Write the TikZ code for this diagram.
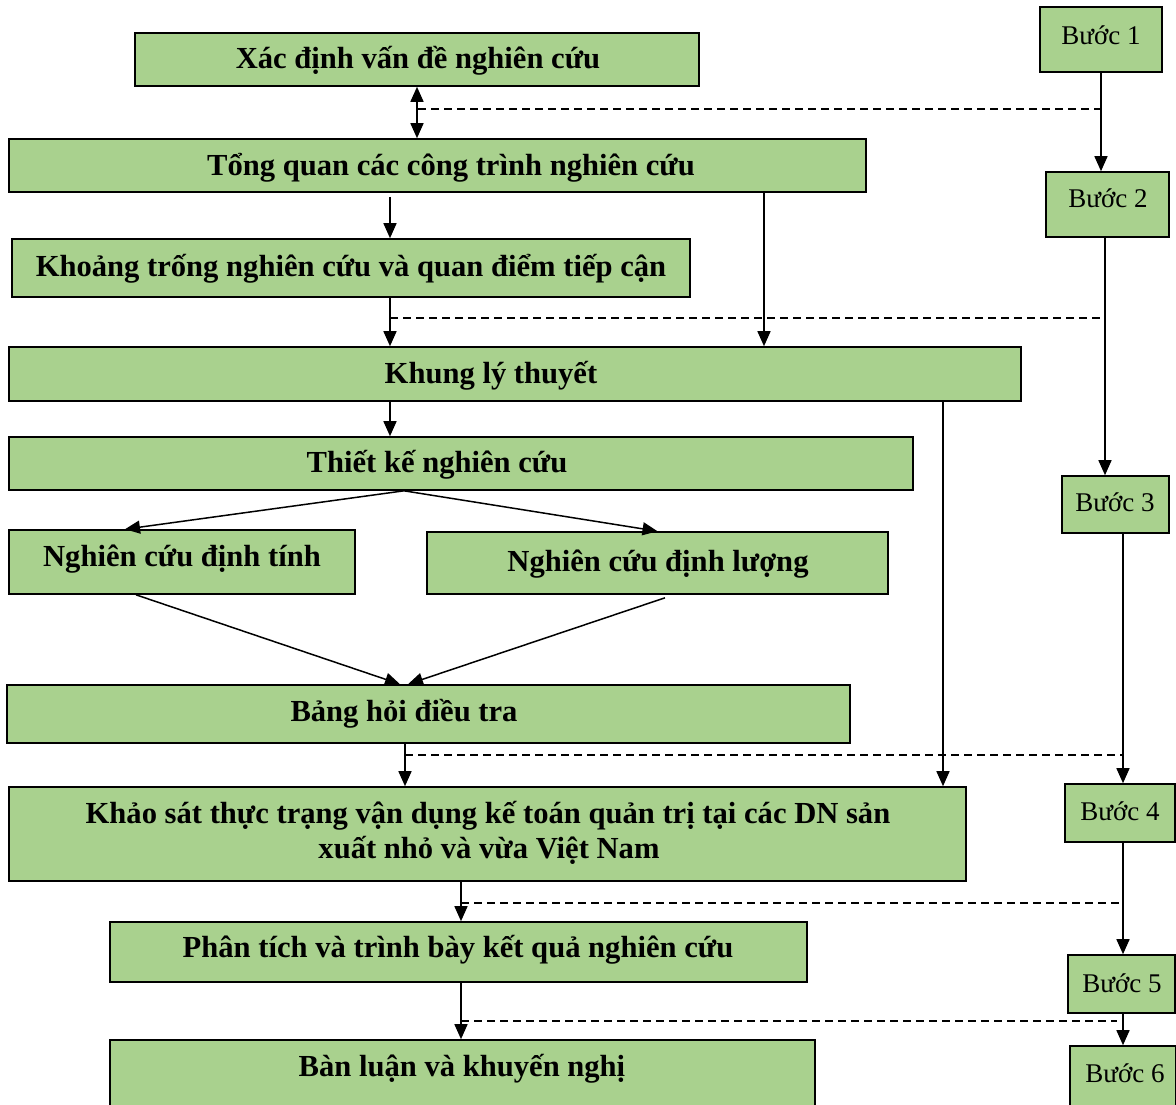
\documentclass[tikz,border=0pt]{standalone}
\usepackage{fontspec}
\setmainfont{Liberation Serif}
\usetikzlibrary{arrows.meta,calc}
\definecolor{boxgreen}{HTML}{A9D18E}

\begin{document}
\begin{tikzpicture}[x=1pt,y=-1pt,
  box/.style={draw=black, fill=boxgreen, line width=1.6pt, inner sep=0pt},
  txt/.style={font=\fontsize{30.6}{35}\selectfont\bfseries, inner sep=0pt, anchor=base},
  steptxt/.style={font=\fontsize{27}{31}\selectfont, inner sep=0pt, anchor=base},
  flow/.style={line width=1.5pt, -{Triangle[length=15pt,width=13pt]}},
  twoway/.style={line width=1.5pt, {Triangle[length=15pt,width=13pt]}-{Triangle[length=15pt,width=13pt]}},
  guide/.style={line width=1.5pt, dash pattern=on 8pt off 5pt}]

\useasboundingbox (0,0) rectangle (1176,1104);

% main column of stages
\node[box, minimum width=564, minimum height=53] (xd) at (417,59.5) {};
\node[box, minimum width=857, minimum height=53] (tq) at (437.5,165.5) {};
\node[box, minimum width=678, minimum height=58] (kt) at (351,268) {};
\node[box, minimum width=1012, minimum height=54] (kl) at (515,374) {};
\node[box, minimum width=904, minimum height=53] (tk) at (461,463.5) {};
\node[box, minimum width=346, minimum height=64] (dt) at (182,562) {};
\node[box, minimum width=461, minimum height=62] (dl) at (657.5,563) {};
\node[box, minimum width=843, minimum height=58] (bh) at (428.5,714) {};
\node[box, minimum width=957, minimum height=94] (ks) at (487.5,834) {};
\node[box, minimum width=697, minimum height=60] (pt) at (458.5,952) {};
\node[box, minimum width=705, minimum height=72] (bl) at (462.5,1076) {};

\node[txt] (xd-t) at (418,68) {Xác định vấn đề nghiên cứu};
\node[txt] (tq-t) at (451,175) {Tổng quan các công trình nghiên cứu};
\node[txt] (kt-t) at (351,276) {Khoảng trống nghiên cứu và quan điểm tiếp cận};
\node[txt] (kl-t) at (491,383) {Khung lý thuyết};
\node[txt] (tk-t) at (437,472) {Thiết kế nghiên cứu};
\node[txt] (dt-t) at (182,566) {Nghiên cứu định tính};
\node[txt] (dl-t) at (658,571) {Nghiên cứu định lượng};
\node[txt] (bh-t) at (404,721) {Bảng hỏi điều tra};
\node[txt] (ks-t1) at (488,823) {Khảo sát thực trạng vận dụng kế toán quản trị tại các DN sản};
\node[txt] (ks-t2) at (489,858) {xuất nhỏ và vừa Việt Nam};
\node[txt] (pt-t) at (458,957) {Phân tích và trình bày kết quả nghiên cứu};
\node[txt] (bl-t) at (462,1076) {Bàn luận và khuyến nghị};

% step column
\node[box, minimum width=122, minimum height=65] (b1) at (1101,39.5) {};
\node[box, minimum width=123, minimum height=65] (b2) at (1107.5,204.5) {};
\node[box, minimum width=107, minimum height=57] (b3) at (1115.5,504.5) {};
\node[box, minimum width=110, minimum height=58] (b4) at (1120,813) {};
\node[box, minimum width=107, minimum height=58] (b5) at (1121.5,984) {};
\node[box, minimum width=106, minimum height=66] (b6) at (1123,1079) {};

\node[steptxt] (b1-t) at (1101,44) {Bước 1};
\node[steptxt] (b2-t) at (1108,207) {Bước 2};
\node[steptxt] (b3-t) at (1115,511) {Bước 3};
\node[steptxt] (b4-t) at (1120,820) {Bước 4};
\node[steptxt] (b5-t) at (1122,992) {Bước 5};
\node[steptxt] (b6-t) at (1125,1082) {Bước 6};

% columns used by the connectors
\coordinate (c125) at (125,0);
\coordinate (c136) at (136,0);
\coordinate (c390) at (390,0);
\coordinate (c400) at (400,0);
\coordinate (c404) at (404,0);
\coordinate (c405) at (405,0);
\coordinate (c408) at (408,0);
\coordinate (c461) at (461,0);
\coordinate (c665) at (665,0);
\coordinate (c764) at (764,0);
\coordinate (c943) at (943,0);
\coordinate (c1105) at (1105,0);
\coordinate (c1123) at (1123,0);

% connectors between stages
\draw[twoway] (xd.south) -- (xd.south |- tq.north);
\draw[flow] ($(tq.south -| c390)+(0,4)$) -- (kt.north -| c390);
\draw[flow] (tq.south -| c764) -- (kl.north -| c764);
\draw[flow] (kt.south -| c390) -- (kl.north -| c390);
\draw[flow] (kl.south -| c390) -- (tk.north -| c390);
\draw[flow] (kl.south -| c943) -- (ks.north -| c943);
\draw[flow] (tk.south -| c404) -- (dt.north -| c125);
\draw[flow] (tk.south -| c404) -- (dl.north);
\draw[flow] (dt.south -| c136) -- (bh.north -| c400);
\draw[flow] ($(dl.south -| c665)+(0,3)$) -- (bh.north -| c408);
\draw[flow] (bh.south -| c405) -- (ks.north -| c405);
\draw[flow] (ks.south -| c461) -- (pt.north -| c461);
\draw[flow] (pt.south -| c461) -- (bl.north -| c461);

% connectors between steps
\draw[flow] (b1.south) -- (b1.south |- b2.north);
\draw[flow] (b2.south -| c1105) -- (b3.north -| c1105);
\draw[flow] (b3.south -| c1123) -- (b4.north -| c1123);
\draw[flow] (b4.south -| c1123) -- (b5.north -| c1123);
\draw[flow] (b5.south -| c1123) -- (b6.north -| c1123);

% dashed guides tying stages to steps
\coordinate (g1a) at (418,109);   \coordinate (g1b) at (1101,109);
\coordinate (g2a) at (390,318);   \coordinate (g2b) at (1105,318);
\coordinate (g3a) at (405,755);   \coordinate (g3b) at (1123,755);
\coordinate (g4a) at (461,903);   \coordinate (g4b) at (1123,903);
\coordinate (g5a) at (461,1021);  \coordinate (g5b) at (1117,1021);
\draw[guide] (g1a) -- (g1b);
\draw[guide] (g2a) -- (g2b);
\draw[guide] (g3a) -- (g3b);
\draw[guide] (g4a) -- (g4b);
\draw[guide] (g5a) -- (g5b);
\end{tikzpicture}
\end{document}
